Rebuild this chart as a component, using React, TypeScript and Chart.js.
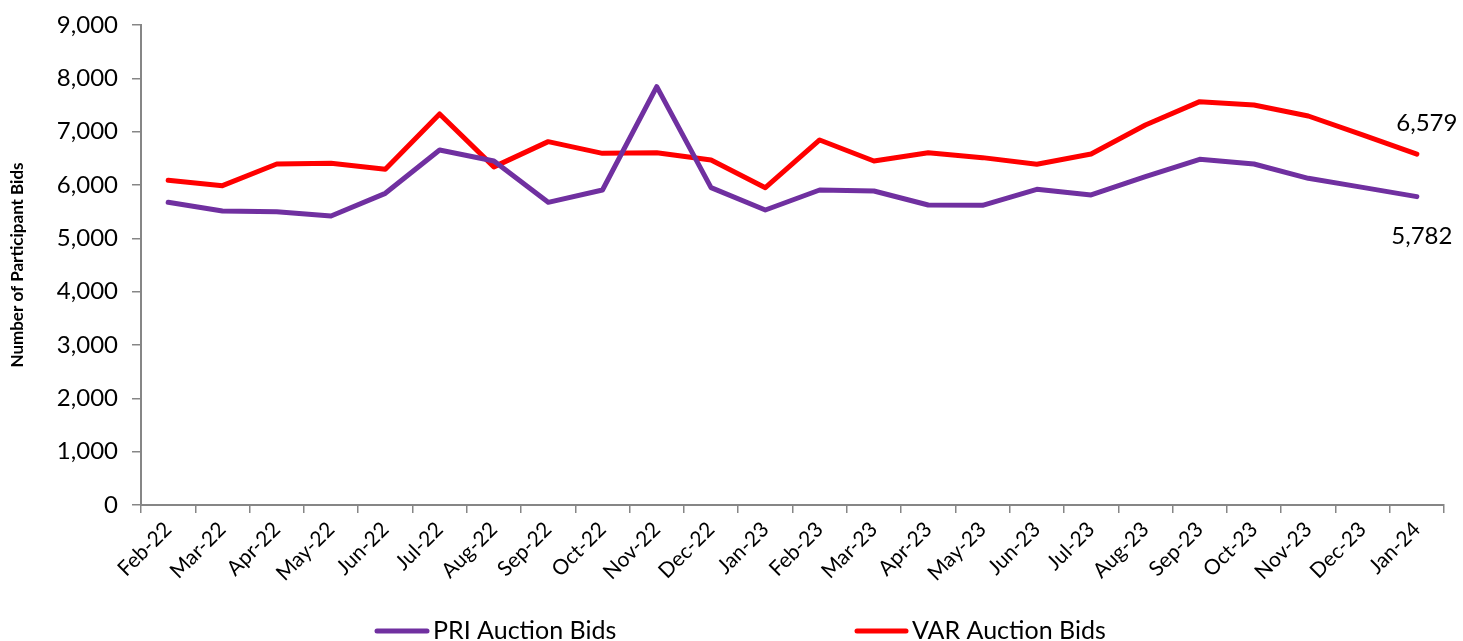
import React, { useEffect, useRef } from "react";
import { Chart, registerables } from "chart.js";

Chart.register(...registerables);

const months = [
  "Feb-22", "Mar-22", "Apr-22", "May-22", "Jun-22", "Jul-22", "Aug-22", "Sep-22",
  "Oct-22", "Nov-22", "Dec-22", "Jan-23", "Feb-23", "Mar-23", "Apr-23", "May-23",
  "Jun-23", "Jul-23", "Aug-23", "Sep-23", "Oct-23", "Nov-23", "Dec-23", "Jan-24",
];

const priBids = [
  5675, 5513, 5500, 5419, 5844, 6656, 6450, 5675,
  5906, 7844, 5950, 5531, 5906, 5888, 5625, 5619,
  5919, 5813, 6156, 6481, 6394, 6125, 5956, 5782,
];

const varBids = [
  6088, 5988, 6394, 6406, 6294, 7331, 6340, 6813,
  6594, 6606, 6469, 5950, 6844, 6450, 6606, 6513,
  6388, 6581, 7125, 7563, 7500, 7294, 6938, 6579,
];

const seriesNames = ["PRI Auction Bids", "VAR Auction Bids"];
const seriesColors = ["#7030A0", "#FF0000"];
const yTickMax = 9000;
const yTickStep = 1000;

const FONT = 'Lato, "Open Sans", sans-serif';
const AXIS_COLOR = "#868686";

const fmt = (v: number) => v.toLocaleString("en-US");

const endLabels = {
  id: "endLabels",
  afterDatasetsDraw(chart: any) {
    const ctx = chart.ctx;
    ctx.save();
    ctx.font = `24px ${FONT}`;
    ctx.fillStyle = "#000";
    ctx.textAlign = "center";
    ctx.textBaseline = "middle";
    chart.data.datasets.forEach((ds: any, i: number) => {
      const meta = chart.getDatasetMeta(i);
      const last = meta.data[meta.data.length - 1];
      const val = ds.data[ds.data.length - 1];
      const dy = i === 1 ? -31 : 40;
      const dx = i === 1 ? 10 : 5;
      ctx.fillText(fmt(val), last.x + dx, last.y + dy);
    });
    ctx.restore();
  },
};

const bottomLegend = {
  id: "bottomLegend",
  afterDraw(chart: any) {
    const ctx = chart.ctx;
    const y = 631;
    const items = [
      { x0: 377, x1: 427 },
      { x0: 857, x1: 906 },
    ];
    ctx.save();
    ctx.font = `25px ${FONT}`;
    ctx.textBaseline = "middle";
    ctx.textAlign = "left";
    items.forEach((it, i) => {
      ctx.strokeStyle = seriesColors[i];
      ctx.lineWidth = 5;
      ctx.lineCap = "round";
      ctx.beginPath();
      ctx.moveTo(it.x0, y);
      ctx.lineTo(it.x1, y);
      ctx.stroke();
      ctx.fillStyle = "#000";
      ctx.fillText(seriesNames[i], it.x1 + 6, y);
    });
    ctx.restore();
  },
};

export default function App() {
  const ref = useRef<HTMLCanvasElement | null>(null);

  useEffect(() => {
    if (!ref.current) return;
    const chart = new Chart(ref.current, {
      type: "line",
      data: {
        labels: months,
        datasets: [
          {
            label: seriesNames[0],
            data: priBids,
            borderColor: seriesColors[0],
            backgroundColor: seriesColors[0],
            borderWidth: 5,
            pointRadius: 0,
            tension: 0,
            borderJoinStyle: "round",
            borderCapStyle: "round",
          },
          {
            label: seriesNames[1],
            data: varBids,
            borderColor: seriesColors[1],
            backgroundColor: seriesColors[1],
            borderWidth: 5,
            pointRadius: 0,
            tension: 0,
            borderJoinStyle: "round",
            borderCapStyle: "round",
          },
        ],
      },
      options: {
        responsive: false,
        animation: false,
        layout: { padding: { top: 25, right: 19, left: 0, bottom: 0 } },
        plugins: {
          legend: { display: false },
          tooltip: { enabled: false },
        },
        scales: {
          x: {
            offset: true,
            grid: {
              offset: true,
              drawOnChartArea: false,
              drawTicks: true,
              tickLength: 8,
              color: AXIS_COLOR,
              lineWidth: 1.5,
            },
            border: { color: AXIS_COLOR, width: 2 },
            ticks: {
              minRotation: 45,
              maxRotation: 45,
              autoSkip: false,
              padding: 4,
              color: "#000",
              font: { family: FONT, size: 21 },
            },
            afterFit: (s: any) => {
              s.height = 136;
            },
          },
          y: {
            min: 0,
            max: yTickMax,
            grid: {
              drawOnChartArea: false,
              drawTicks: true,
              tickLength: 9,
              color: AXIS_COLOR,
              lineWidth: 1.5,
            },
            border: { color: AXIS_COLOR, width: 2 },
            ticks: {
              stepSize: yTickStep,
              padding: 14,
              color: "#000",
              font: { family: FONT, size: 24 },
              callback: (v: any) => fmt(Number(v)),
            },
            title: {
              display: true,
              text: "Number of Participant Bids",
              color: "#000",
              font: { family: FONT, size: 17, weight: "bold" },
              padding: { top: 7, bottom: 0 },
            },
            afterFit: (s: any) => {
              s.width = 141;
              s.paddingTop = 0;
              s.paddingBottom = 0;
            },
          },
        },
      },
      plugins: [endLabels, bottomLegend],
    });
    return () => chart.destroy();
  }, []);

  return (
    <div style={{ position: "fixed", left: 0, top: 0, width: 1463, height: 641, background: "#fff" }}>
      <canvas ref={ref} width={1463} height={641} />
    </div>
  );
}
